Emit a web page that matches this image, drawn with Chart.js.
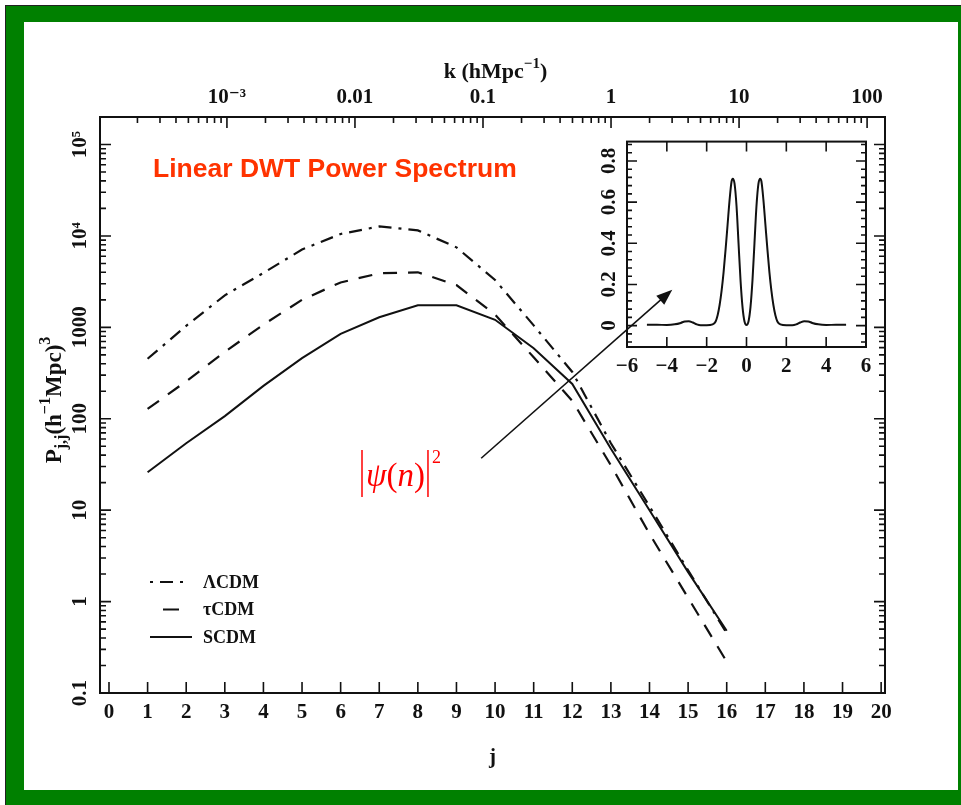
<!DOCTYPE html>
<html>
<head>
<meta charset="utf-8">
<script src="https://cdn.jsdelivr.net/npm/chart.js@4.4.0/dist/chart.umd.min.js"></script>
<style>
html, body { margin: 0; padding: 0; width: 961px; height: 805px; overflow: hidden; background: #fff; }
#frame { position: absolute; left: 5px; top: 5px; width: 1000px; height: 1000px; background: #008000; border-left: 1px solid #222; border-top: 1px solid #222; }
#paper { position: absolute; left: 24px; top: 22px; width: 934px; height: 768px; background: #fff; }
#main { position: absolute; left: 24px; top: 22px; }
#inset { position: absolute; left: 590px; top: 125px; }
</style>
</head>
<body>
<div id="frame"></div>
<div id="paper"></div>
<canvas id="main" width="934" height="768"></canvas>
<canvas id="inset" width="290" height="265"></canvas>
<script>
// main panel: P_jj against scale j, one line per model
const jLevels = [1, 2, 3, 4, 5, 6, 7, 8, 9, 10, 11, 12, 13, 14, 15, 16];
const lcdmP = [453, 1040, 2240, 3940, 7100, 10500, 12700, 11500, 7500, 3300, 1050, 325, 54, 11, 2.2, 0.45];
const tcdmP = [128, 257, 540, 1070, 2000, 3100, 3900, 4000, 2900, 1380, 470, 157, 31, 5.5, 1.1, 0.22];
const scdmP = [26, 54, 107, 229, 460, 850, 1290, 1740, 1740, 1210, 590, 240, 47, 10, 2.1, 0.48];
const modelNames = ['ΛCDM', 'τCDM', 'SCDM'];

const jTicks = [0, 1, 2, 3, 4, 5, 6, 7, 8, 9, 10, 11, 12, 13, 14, 15, 16, 17, 18, 19, 20];
const pTicks = [0.1, 1, 10, 100, 1000, 1e4, 1e5];
const pTickLabels = ['0.1', '1', '10', '100', '1000', '10⁴', '10⁵'];
const kTicks = [0.001, 0.01, 0.1, 1, 10, 100];
const kTickLabels = ['10⁻³', '0.01', '0.1', '1', '10', '100'];

// inset: |psi(n)|^2
const insetN = [-5, -4.5, -4, -3.6, -3.3, -3.1, -2.9, -2.7, -2.5, -2.3, -2, -1.7, -1.55, -1.45, -1.35, -1.25, -1.15, -1.05, -0.95, -0.85, -0.75, -0.69, -0.6, -0.5, -0.4, -0.3, -0.2, -0.1, 0,
                0.1, 0.2, 0.3, 0.4, 0.5, 0.6, 0.69, 0.75, 0.85, 0.95, 1.05, 1.15, 1.25, 1.35, 1.45, 1.55, 1.7, 2, 2.3, 2.5, 2.7, 2.9, 3.1, 3.3, 3.6, 4, 4.5, 5];
const insetPsi2 = [0.004, 0.004, 0.003, 0.006, 0.013, 0.02, 0.021, 0.015, 0.006, 0.002, 0.002, 0.006, 0.02, 0.05, 0.10, 0.17, 0.26, 0.37, 0.49, 0.61, 0.70, 0.714, 0.69, 0.58, 0.40, 0.22, 0.09, 0.02, 0.003,
                   0.02, 0.09, 0.22, 0.40, 0.58, 0.69, 0.714, 0.70, 0.61, 0.49, 0.37, 0.26, 0.17, 0.10, 0.05, 0.02, 0.006, 0.002, 0.002, 0.006, 0.015, 0.021, 0.02, 0.013, 0.006, 0.003, 0.004, 0.004];
const nTicks = [-6, -4, -2, 0, 2, 4, 6];
const nTickLabels = ['−6', '−4', '−2', '0', '2', '4', '6'];
const psiTicks = [0, 0.2, 0.4, 0.6, 0.8];
const psiTickLabels = ['0', '0.2', '0.4', '0.6', '0.8'];

// axis ranges
const jMin = -0.233, jMax = 20.1;
const pMin = 0.1, pMax = 2e5;
const kMin = 1.02e-4, kMax = 138;

const arrowTail = { x: 9.64, y: 37 };
const arrowTip = { x: 14.59, y: 2580 };

const ink = '#111';
const serif = '"Liberation Serif", "DejaVu Serif", serif';
const tickFont = { family: serif, size: 21, weight: 'bold' };

function logMajor(lo, hi) {
  const out = [];
  for (let e = Math.ceil(Math.log10(lo)); e <= Math.floor(Math.log10(hi)); e++) out.push(Math.pow(10, e));
  return out;
}
function logMinor(lo, hi) {
  const out = [];
  for (let e = Math.floor(Math.log10(lo)); e <= Math.ceil(Math.log10(hi)); e++) {
    for (let m = 2; m <= 9; m++) {
      const v = m * Math.pow(10, e);
      if (v > lo && v < hi) out.push(v);
    }
  }
  return out;
}

// inward tick marks along the frame
function markTicks(chart, id, values, len, sides) {
  const { ctx, chartArea: a } = chart;
  const s = chart.scales[id];
  ctx.beginPath();
  for (const v of values) {
    const p = s.getPixelForValue(v);
    if (s.isHorizontal()) {
      if (p < a.left + 1 || p > a.right - 1) continue;
      if (sides.includes('bottom')) { ctx.moveTo(p, a.bottom); ctx.lineTo(p, a.bottom - len); }
      if (sides.includes('top')) { ctx.moveTo(p, a.top); ctx.lineTo(p, a.top + len); }
    } else {
      if (p < a.top + 1 || p > a.bottom - 1) continue;
      if (sides.includes('left')) { ctx.moveTo(a.left, p); ctx.lineTo(a.left + len, p); }
      if (sides.includes('right')) { ctx.moveTo(a.right, p); ctx.lineTo(a.right - len, p); }
    }
  }
  ctx.stroke();
}

function richText(ctx, parts, x, y) {
  let cx = x;
  for (const [t, size, dy] of parts) {
    ctx.font = 'bold ' + size + 'px ' + serif;
    ctx.fillText(t, cx, y + dy);
    cx += ctx.measureText(t).width;
  }
  return cx - x;
}
function richWidth(ctx, parts) {
  let w = 0;
  for (const [t, size] of parts) {
    ctx.font = 'bold ' + size + 'px ' + serif;
    w += ctx.measureText(t).width;
  }
  return w;
}

const legendDash = [[3, 7, 13, 7, 3, 100], [0, 13, 16, 100], []];

const mainDecor = {
  id: 'mainDecor',
  afterDraw(chart) {
    const { ctx, chartArea: a } = chart;
    const xs = chart.scales.x, ys = chart.scales.y;
    ctx.save();
    ctx.strokeStyle = ink;
    ctx.fillStyle = ink;
    ctx.lineWidth = 2;
    ctx.strokeRect(a.left, a.top, a.width, a.height);
    ctx.lineWidth = 1.6;
    markTicks(chart, 'x', jTicks, 11, ['bottom']);
    markTicks(chart, 'k', logMajor(kMin, kMax), 11, ['top']);
    markTicks(chart, 'k', logMinor(kMin, kMax), 6, ['top']);
    markTicks(chart, 'y', logMajor(pMin, pMax), 11, ['left', 'right']);
    markTicks(chart, 'y', logMinor(pMin, pMax), 6, ['left', 'right']);

    // axis titles
    ctx.textBaseline = 'alphabetic';
    const cx = (a.left + a.right) / 2;
    ctx.textAlign = 'center';
    ctx.font = 'bold 21px ' + serif;
    ctx.fillText('j', cx, a.bottom + 70);
    ctx.textAlign = 'left';
    const kParts = [['k (hMpc', 22, 0], ['−1', 15, -10], [')', 22, 0]];
    richText(ctx, kParts, cx - richWidth(ctx, kParts) / 2 + 3, a.top - 39);
    const pParts = [['P', 23, 0], ['j,j', 16, 5], ['(h', 23, 0], ['−1', 16, -11], ['Mpc)', 23, 0], ['3', 16, -11]];
    ctx.save();
    ctx.translate(a.left - 39, a.top + 283);
    ctx.rotate(-Math.PI / 2);
    richText(ctx, pParts, -richWidth(ctx, pParts) / 2, 0);
    ctx.restore();

    // heading
    ctx.fillStyle = '#ff3300';
    ctx.font = 'bold 26.5px "Liberation Sans", Arial, sans-serif';
    ctx.fillText('Linear DWT Power Spectrum', a.left + 53, a.top + 60);

    // legend
    ctx.fillStyle = ink;
    ctx.strokeStyle = ink;
    chart.data.datasets.forEach((ds, i) => {
      const y = a.bottom - 111 + i * 27.5;
      ctx.lineWidth = 2;
      ctx.setLineDash(legendDash[i]);
      ctx.beginPath();
      ctx.moveTo(a.left + 50, y);
      ctx.lineTo(a.left + 92, y);
      ctx.stroke();
      ctx.setLineDash([]);
      ctx.font = 'bold 18px ' + serif;
      ctx.textBaseline = 'middle';
      ctx.fillText(ds.label, a.left + 103, y + 1);
    });

    // arrow to the inset
    const x1 = xs.getPixelForValue(arrowTail.x), y1 = ys.getPixelForValue(arrowTail.y);
    const x2 = xs.getPixelForValue(arrowTip.x), y2 = ys.getPixelForValue(arrowTip.y);
    const ang = Math.atan2(y2 - y1, x2 - x1), L = 16, W = 6;
    const c = Math.cos(ang), s = Math.sin(ang);
    ctx.lineWidth = 1.6;
    ctx.beginPath();
    ctx.moveTo(x1, y1);
    ctx.lineTo(x2 - L * 0.8 * c, y2 - L * 0.8 * s);
    ctx.stroke();
    ctx.beginPath();
    ctx.moveTo(x2, y2);
    ctx.lineTo(x2 - L * c + W * s, y2 - L * s - W * c);
    ctx.lineTo(x2 - L * c - W * s, y2 - L * s + W * c);
    ctx.closePath();
    ctx.fill();

    // |psi(n)|^2 label
    const red = '#f00';
    const bx = a.left + 262, by = a.top + 369;
    ctx.fillStyle = red;
    ctx.strokeStyle = red;
    ctx.lineWidth = 1.5;
    ctx.textBaseline = 'alphabetic';
    ctx.beginPath();
    ctx.moveTo(bx, by - 36);
    ctx.lineTo(bx, by + 11);
    ctx.stroke();
    let tx = bx + 4;
    const seg = [['ψ', 'italic'], ['(', ''], ['n', 'italic'], [')', '']];
    for (const [t, st] of seg) {
      ctx.font = st + ' 33px "Liberation Serif", "DejaVu Serif", serif';
      ctx.fillText(t, tx, by);
      tx += ctx.measureText(t).width;
    }
    tx += 3;
    ctx.beginPath();
    ctx.moveTo(tx, by - 36);
    ctx.lineTo(tx, by + 11);
    ctx.stroke();
    ctx.font = '18px "Liberation Serif", serif';
    ctx.fillText('2', tx + 4, by - 23);
    ctx.restore();
  }
};

const insetDecor = {
  id: 'insetDecor',
  afterDraw(chart) {
    const { ctx, chartArea: a } = chart;
    ctx.save();
    ctx.strokeStyle = ink;
    ctx.lineWidth = 2;
    ctx.strokeRect(a.left, a.top, a.width, a.height);
    ctx.lineWidth = 1.6;
    markTicks(chart, 'x', nTicks, 10, ['bottom', 'top']);
    markTicks(chart, 'y', psiTicks, 10, ['left', 'right']);
    const minor = [];
    for (let i = -2; i <= 22; i++) if (i % 5 !== 0) minor.push(i * 0.04);
    markTicks(chart, 'y', minor, 5, ['left', 'right']);
    ctx.restore();
  }
};

const hideGrid = { display: false, drawTicks: false };

new Chart(document.getElementById('main'), {
  type: 'line',
  data: {
    datasets: [
      {
        label: modelNames[0],
        data: lcdmP.map((v, i) => ({ x: jLevels[i], y: v })),
        borderColor: ink,
        borderWidth: 2.2,
        borderDash: [13, 7, 3, 7],
        pointRadius: 0
      },
      {
        label: modelNames[1],
        data: tcdmP.map((v, i) => ({ x: jLevels[i], y: v })),
        borderColor: ink,
        borderWidth: 2.2,
        borderDash: [14, 11],
        pointRadius: 0
      },
      {
        label: modelNames[2],
        data: scdmP.map((v, i) => ({ x: jLevels[i], y: v })),
        borderColor: ink,
        borderWidth: 2,
        pointRadius: 0
      }
    ]
  },
  options: {
    responsive: false,
    animation: false,
    events: [],
    layout: { padding: { right: 73 } },
    plugins: { legend: { display: false }, tooltip: { enabled: false } },
    scales: {
      x: {
        type: 'linear', position: 'bottom', min: jMin, max: jMax,
        afterBuildTicks: s => { s.ticks = jTicks.map(v => ({ value: v })); },
        afterFit: s => { s.height = 97; },
        ticks: { font: tickFont, color: ink, padding: 7, autoSkip: false, minRotation: 0, maxRotation: 0, callback: v => String(v) },
        grid: hideGrid, border: { display: false }
      },
      k: {
        type: 'logarithmic', position: 'top', min: kMin, max: kMax,
        afterBuildTicks: s => { s.ticks = kTicks.map(v => ({ value: v })); },
        afterFit: s => { s.height = 95; },
        ticks: { font: tickFont, color: ink, padding: 7, autoSkip: false, minRotation: 0, maxRotation: 0, callback: (v, i) => kTickLabels[i] },
        grid: hideGrid, border: { display: false }
      },
      y: {
        type: 'logarithmic', position: 'left', min: pMin, max: pMax,
        afterBuildTicks: s => { s.ticks = pTicks.map(v => ({ value: v })); },
        afterFit: s => { s.width = 76; },
        ticks: { font: tickFont, color: ink, padding: -2, autoSkip: false, minRotation: 90, maxRotation: 90, crossAlign: 'center', callback: (v, i) => pTickLabels[i] },
        grid: hideGrid, border: { display: false }
      }
    }
  },
  plugins: [mainDecor]
});

new Chart(document.getElementById('inset'), {
  type: 'line',
  data: {
    datasets: [{
      data: insetN.map((n, i) => ({ x: n, y: insetPsi2[i] })),
      borderColor: ink,
      borderWidth: 2,
      pointRadius: 0,
      cubicInterpolationMode: 'monotone'
    }]
  },
  options: {
    responsive: false,
    animation: false,
    events: [],
    layout: { padding: { top: 10, right: 14 } },
    plugins: { legend: { display: false }, tooltip: { enabled: false } },
    scales: {
      x: {
        type: 'linear', min: -6, max: 6,
        afterBuildTicks: s => { s.ticks = nTicks.map(v => ({ value: v })); },
        afterFit: s => { s.height = 43; },
        ticks: { font: tickFont, color: ink, padding: 7, autoSkip: false, minRotation: 0, maxRotation: 0, callback: (v, i) => nTickLabels[i] },
        grid: hideGrid, border: { display: false }
      },
      y: {
        type: 'linear', min: -0.104, max: 0.894,
        afterBuildTicks: s => { s.ticks = psiTicks.map(v => ({ value: v })); },
        afterFit: s => { s.width = 37; },
        ticks: { font: tickFont, color: ink, padding: 4, autoSkip: false, minRotation: 90, maxRotation: 90, crossAlign: 'center', callback: (v, i) => psiTickLabels[i] },
        grid: hideGrid, border: { display: false }
      }
    }
  },
  plugins: [insetDecor]
});
</script>
</body>
</html>
